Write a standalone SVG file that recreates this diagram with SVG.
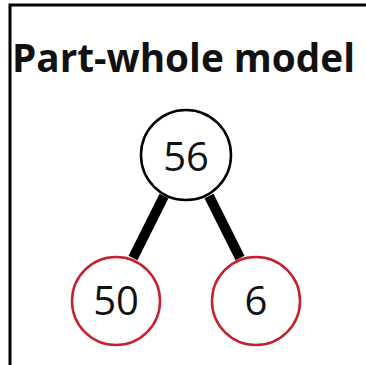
<svg xmlns="http://www.w3.org/2000/svg" width="366" height="365" viewBox="0 0 366 365">
<style>
.frame{fill:none;stroke:#000;stroke-width:3}
.conn{stroke:#000;stroke-width:10;stroke-linecap:butt}
.whole{fill:#fff;stroke:#000;stroke-width:2.5}
.part{fill:#fff;stroke:#c8202f;stroke-width:2.5}
.num{font-family:"Open Sans","Liberation Sans",sans-serif;font-size:40px;fill:#111;text-anchor:middle}
.title{font-family:"Open Sans","Liberation Sans",sans-serif;font-weight:bold;font-size:40px;fill:#111}
</style>
<rect width="366" height="365" fill="#fff"/>
<path class="frame" d="M10,365 V5 H366"/>
<text class="title" x="12" y="72" textLength="343" lengthAdjust="spacingAndGlyphs">Part-whole model</text>
<g id="connectors">
<line class="conn" x1="164" y1="196" x2="133" y2="258"/>
<line class="conn" x1="209" y1="196" x2="240" y2="258"/>
</g>
<g id="node-whole">
<circle class="whole" cx="186" cy="155" r="45"/>
<text class="num" x="186" y="171">56</text>
</g>
<g id="node-part1">
<circle class="part" cx="116" cy="301" r="44"/>
<text class="num" x="116" y="315">50</text>
</g>
<g id="node-part2">
<circle class="part" cx="256" cy="301" r="44"/>
<text class="num" x="256" y="315">6</text>
</g>
</svg>
